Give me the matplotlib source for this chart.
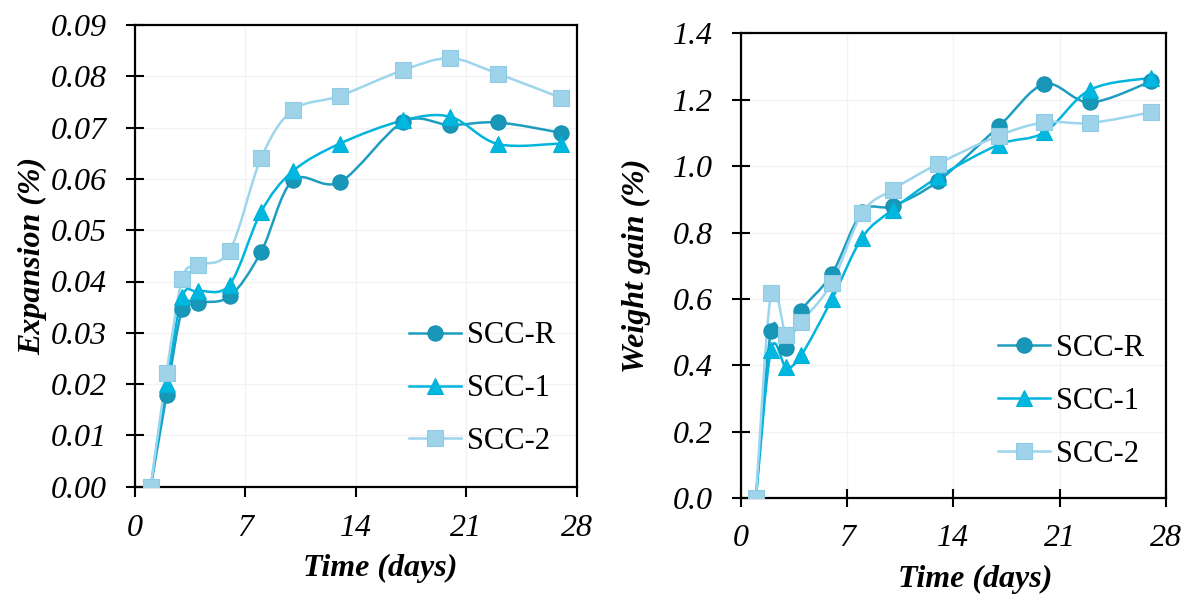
import numpy as np
import matplotlib
matplotlib.use("Agg")
import matplotlib.pyplot as plt
from matplotlib.path import Path
from matplotlib.patches import PathPatch
from matplotlib.lines import Line2D

plt.rcParams['font.family'] = ['Liberation Serif', 'DejaVu Serif']

days = [1, 2, 3, 4, 6, 8, 10, 13, 17, 20, 23, 27]

exp_R = [0.0, 0.0179, 0.0346, 0.0359, 0.0371, 0.0458, 0.0597, 0.0594, 0.0711, 0.0705, 0.0710, 0.0690]
exp_1 = [0.0, 0.0201, 0.0370, 0.0381, 0.0394, 0.0536, 0.0615, 0.0669, 0.0714, 0.0721, 0.0668, 0.0669]
exp_2 = [0.0, 0.0222, 0.0405, 0.0432, 0.0460, 0.0641, 0.0734, 0.0762, 0.0812, 0.0835, 0.0805, 0.0758]

wg_R = [0.0, 0.505, 0.452, 0.565, 0.675, 0.862, 0.880, 0.955, 1.120, 1.247, 1.192, 1.255]
wg_1 = [0.0, 0.447, 0.394, 0.432, 0.599, 0.785, 0.869, 0.967, 1.065, 1.102, 1.230, 1.266]
wg_2 = [0.0, 0.619, 0.492, 0.532, 0.649, 0.859, 0.929, 1.007, 1.092, 1.132, 1.130, 1.162]

series_names = ["SCC-R", "SCC-1", "SCC-2"]
x_ticks = [0, 7, 14, 21, 28]
exp_ticks = [0.00, 0.01, 0.02, 0.03, 0.04, 0.05, 0.06, 0.07, 0.08, 0.09]
wg_ticks = [0.0, 0.2, 0.4, 0.6, 0.8, 1.0, 1.2, 1.4]

styles = [
    dict(line='#1E9DC0', face='#1897B9', edge='#1590B2', marker='o', ms=11),
    dict(line='#00B5DD', face='#00B7DF', edge='#00B0D8', marker='^', ms=11),
    dict(line='#9DD5EC', face='#9ED3EA', edge='#8ECBE5', marker='s', ms=11),
]


def smooth_path(x, y):
    x = np.asarray(x, float)
    y = np.asarray(y, float)
    n = len(x)
    verts = [(x[0], y[0])]
    codes = [Path.MOVETO]
    for i in range(n - 1):
        p0 = np.array([x[max(i - 1, 0)], y[max(i - 1, 0)]])
        p1 = np.array([x[i], y[i]])
        p2 = np.array([x[i + 1], y[i + 1]])
        p3 = np.array([x[min(i + 2, n - 1)], y[min(i + 2, n - 1)]])
        c1 = p1 + (p2 - p0) / 6.0
        c2 = p2 - (p3 - p1) / 6.0
        verts += [tuple(c1), tuple(c2), tuple(p2)]
        codes += [Path.CURVE4] * 3
    return Path(verts, codes)


def draw_panel(ax, data, yticks, fmt, ylabel, xtickdir, ylabelpad, xlabel_xy):
    for vals, st in zip(data, styles):
        patch = PathPatch(smooth_path(days, vals), facecolor='none',
                          edgecolor=st['line'], lw=1.8, zorder=3)
        ax.add_patch(patch)
        ax.plot(days, vals, linestyle='none', marker=st['marker'], ms=st['ms'],
                mfc=st['face'], mec=st['edge'], mew=0.8, zorder=4)
    ax.set_xlim(0, 28)
    ax.set_ylim(yticks[0], yticks[-1])
    ax.set_xticks(x_ticks)
    ax.set_yticks(yticks)
    ax.set_xticklabels([str(t) for t in x_ticks])
    ax.set_yticklabels([fmt.format(t) for t in yticks])
    ax.grid(True, color='#F2F2F2', lw=1.0, zorder=0)
    ax.set_axisbelow(True)
    for sp in ax.spines.values():
        sp.set_linewidth(1.6)
        sp.set_color('black')
    ax.tick_params(axis='y', direction='inout', length=13, width=1.5,
                   labelsize=23, pad=13.5)
    if xtickdir == 'out':
        ax.tick_params(axis='x', direction='out', length=7, width=1.5,
                       labelsize=23, pad=13)
    else:
        ax.tick_params(axis='x', direction='inout', length=13, width=1.5,
                       labelsize=23, pad=12)
    for lab in ax.get_xticklabels() + ax.get_yticklabels():
        lab.set_fontstyle('italic')
    ax.set_xlabel('Time (days)', fontsize=23, fontweight='bold',
                  fontstyle='italic')
    ax.xaxis.set_label_coords(*xlabel_xy)
    ax.set_ylabel(ylabel, fontsize=23, fontweight='bold', fontstyle='italic',
                  labelpad=ylabelpad)
    handles = [Line2D([0], [0], color=st['line'], lw=1.8, marker=st['marker'],
                      ms=st['ms'], mfc=st['face'], mec=st['edge'], mew=0.8)
               for st in styles]
    return handles


fig = plt.figure(figsize=(11.9, 5.95), dpi=100)
ax1 = fig.add_axes([135 / 1190, 1 - 486.7 / 595, 441.7 / 1190, 461.7 / 595])
ax2 = fig.add_axes([740.7 / 1190, 1 - 498.3 / 595, 425.3 / 1190, 465 / 595])

h1 = draw_panel(ax1, [exp_R, exp_1, exp_2], exp_ticks, '{:.2f}', 'Expansion (%)',
                'out', 3, (0.555, -0.146))
h2 = draw_panel(ax2, [wg_R, wg_1, wg_2], wg_ticks, '{:.1f}', 'Weight gain (%)',
                'inout', 16, (0.551, -0.143))

ax1.legend(h1, series_names, loc='lower right', bbox_to_anchor=(1.0, 0.02),
           frameon=False, fontsize=22, handlelength=1.7, handletextpad=0.2,
           labelspacing=0.78, borderaxespad=0.3)
ax2.legend(h2, series_names, loc='lower right', bbox_to_anchor=(1.0, 0.018),
           frameon=False, fontsize=22, handlelength=1.7, handletextpad=0.2,
           labelspacing=0.78, borderaxespad=0.3)

fig.savefig('out.png', dpi=100)
